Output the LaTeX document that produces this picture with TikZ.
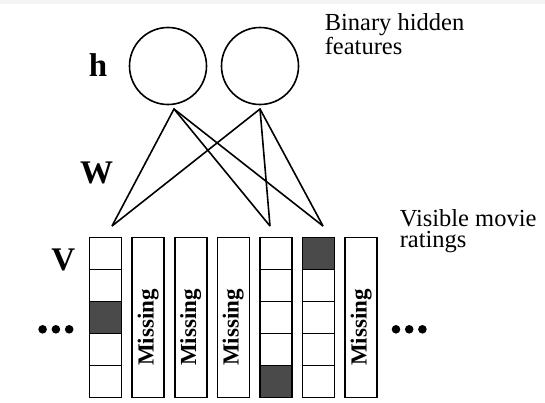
\documentclass[tikz,border=0pt]{standalone}
\usepackage{fontspec}
\setmainfont{Liberation Serif}
\definecolor{darkcell}{HTML}{4A4A4A}
\definecolor{topstrip}{HTML}{F4F4F4}
\begin{document}
\begin{tikzpicture}[x=1pt,y=-1pt,line width=1.6pt,
  unit/.style={circle,draw,minimum size=77pt,inner sep=0pt},
  cell/.style={draw,fill=white,minimum width=32pt,minimum height=32pt,inner sep=0pt},
  darkcell/.style={cell,fill=darkcell},
  misscol/.style={draw,minimum width=32pt,minimum height=160pt,inner sep=0pt},
  misstext/.style={font=\bfseries\fontsize{23}{23}\selectfont,rotate=90,inner sep=0pt},
  lbl/.style={font=\bfseries\fontsize{33}{33}\selectfont,inner sep=0pt,anchor=base},
  note/.style={font=\fontsize{24.5}{21}\selectfont,inner sep=0pt,anchor=base west,align=left},
  bullet/.style={circle,fill=black,minimum size=8.6pt,inner sep=0pt,draw=none}]
\useasboundingbox (0,0) rectangle (545,402);
\fill[topstrip] (0,0) rectangle (545,4);

% hidden units
\node[unit] (h1) at (168,66) {};
\node[unit] (h2) at (260,66) {};
\coordinate (h1b) at (174,109);
\coordinate (h2b) at (260,109);

% end points of connections
\coordinate (e1) at (112,226);
\coordinate (e2) at (270,226);
\coordinate (e3) at (323,226);

\draw (e1) -- (h1b) -- (e2);
\draw (h1b) -- (e3);
\draw (e1) -- (h2b) -- (e3);
\draw (h2b) -- (e2);

% labels
\node[lbl] (lh) at (98,76.7) {h};
\node[lbl] (lw) at (96.7,183.3) {W};
\node[lbl] (lv) at (63.3,270) {V};

\node[note] (bh) at (324,54.3) {Binary hidden\\features};
\node[note] (vm) at (399,247.3) {Visible movie\\ratings};

% observed columns
\foreach \c/\d in {1/3,5/5,6/1}{
  \pgfmathsetmacro{\cx}{89.5+42.6*(\c-1)+16}
  \foreach \k in {1,...,5}{
    \pgfmathsetmacro{\cy}{237.3+32*(\k-1)+16}
    \ifnum\k=\d
      \node[darkcell] (c\c r\k) at (\cx,\cy) {};
    \else
      \node[cell] (c\c r\k) at (\cx,\cy) {};
    \fi
  }
}

% missing columns
\foreach \c in {2,3,4,7}{
  \pgfmathsetmacro{\cx}{89.5+42.6*(\c-1)+16}
  \node[misscol] (m\c) at (\cx,317.3) {};
  \node[misstext] (t\c) at (\cx,327.5) {Missing};
}

% ellipses
\node[bullet] (l1) at (42.6,329.3) {};
\node[bullet] (l2) at (55.9,329.3) {};
\node[bullet] (l3) at (69.2,329.3) {};
\node[bullet] (r1) at (396,329.3) {};
\node[bullet] (r2) at (409.2,329.3) {};
\node[bullet] (r3) at (422.4,329.3) {};
\end{tikzpicture}
\end{document}
